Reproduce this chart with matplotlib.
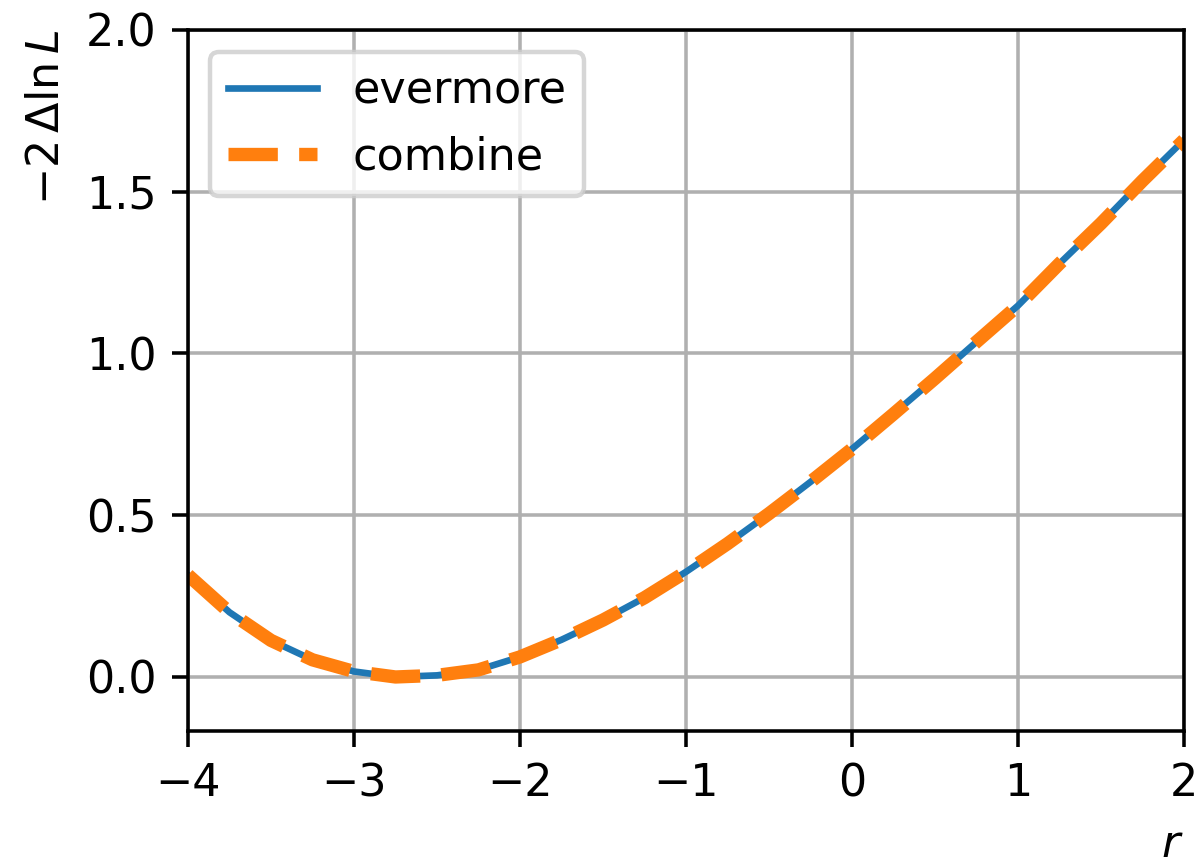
import matplotlib

matplotlib.use("Agg")
import matplotlib.pyplot as plt
import numpy as np

# scan points
r_values = [-4.0, -3.75, -3.5, -3.25, -3.0, -2.75, -2.5, -2.25, -2.0, -1.75,
            -1.5, -1.25, -1.0, -0.75, -0.5, -0.25, 0.0, 0.25, 0.5, 0.75,
            1.0, 1.25, 1.5, 1.75, 2.0]
evermore_nll = [0.315, 0.200, 0.113, 0.053, 0.017, 0.000, 0.005, 0.022, 0.062, 0.115,
                0.176, 0.245, 0.325, 0.412, 0.505, 0.603, 0.705, 0.813, 0.923, 1.036,
                1.148, 1.278, 1.402, 1.534, 1.660]
combine_nll = [0.315, 0.200, 0.113, 0.053, 0.017, 0.000, 0.005, 0.022, 0.062, 0.115,
               0.176, 0.245, 0.325, 0.412, 0.505, 0.603, 0.705, 0.813, 0.923, 1.036,
               1.148, 1.278, 1.402, 1.534, 1.660]

DPI = 320
fig = plt.figure(figsize=(1204 / DPI, 857 / DPI), dpi=DPI)
ax = fig.add_axes([188 / 1204, 1 - 731 / 857, 996 / 1204, 701 / 857])

ax.plot(np.array(r_values), np.array(evermore_nll), color="C0", linewidth=1.5, label="evermore")
ax.plot(np.array(r_values), np.array(combine_nll), color="C1", linewidth=3, linestyle="--", label="combine")

ax.set_xlim(-4, 2)
ax.set_ylim(-0.167, 2.0)
ax.set_yticks([0.0, 0.5, 1.0, 1.5, 2.0])
ax.grid(True)
ax.set_xlabel(r"$r$", loc="right")
ax.set_ylabel(r"$-2\,\Delta\ln L$", loc="top")
ax.legend(loc="upper left")

fig.savefig("out.png", dpi=DPI)
